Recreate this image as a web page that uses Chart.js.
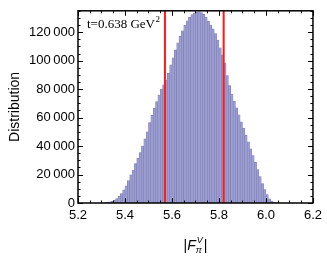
<!DOCTYPE html>
<html>
<head>
<meta charset="utf-8">
<script src="https://cdn.jsdelivr.net/npm/chart.js@4.4.0/dist/chart.umd.min.js"></script>
<style>
    html, body { margin: 0; padding: 0; background: #fff; }
    #chartOuter { width: 327px; height: 256px; }
</style>
</head>
<body>
<div id="chartOuter"><canvas id="myChart"></canvas></div>
<script>
// histogram bins (centre of each 0.01 wide bin) and counts
const binCenters = [
    5.315, 5.325, 5.335, 5.345, 5.355, 5.365, 5.375, 5.385, 5.395, 5.405,
    5.415, 5.425, 5.435, 5.445, 5.455, 5.465, 5.475, 5.485, 5.495, 5.505,
    5.515, 5.525, 5.535, 5.545, 5.555, 5.565, 5.575, 5.585, 5.595, 5.605,
    5.615, 5.625, 5.635, 5.645, 5.655, 5.665, 5.675, 5.685, 5.695, 5.705,
    5.715, 5.725, 5.735, 5.745, 5.755, 5.765, 5.775, 5.785, 5.795, 5.805,
    5.815, 5.825, 5.835, 5.845, 5.855, 5.865, 5.875, 5.885, 5.895, 5.905,
    5.915, 5.925, 5.935, 5.945, 5.955, 5.965, 5.975, 5.985, 5.995, 6.005,
    6.015, 6.025, 6.035, 6.045, 6.055
];
const counts = [
    300, 600, 900, 1200, 2100, 3100, 4600, 6700, 9200, 12000,
    15700, 19700, 23200, 27700, 31500, 35500, 40000, 45000, 50000, 56500,
    61500, 66500, 71200, 75800, 80000, 83000, 86500, 91000, 97000, 102000,
    107500, 112500, 117000, 121000, 124800, 128000, 130500, 132300, 133500, 134000,
    134200, 133700, 132500, 130600, 127800, 125000, 122300, 119000, 114500, 109000,
    104000, 98500, 89500, 82500, 76500, 71500, 66800, 62000, 57000, 52500,
    47500, 43000, 38000, 33300, 28500, 23500, 18500, 13600, 9500, 6000,
    3000, 1300, 500, 200, 50
];
// the two red vertical lines
const bandEdges = [5.57, 5.82];
const xTicks = [5.2, 5.4, 5.6, 5.8, 6.0, 6.2];
const yTicks = [0, 20000, 40000, 60000, 80000, 100000, 120000];
const xMinorStep = 0.05;
const yMinorStep = 5000;
const yMax = 135000;
const tLabel = "t=0.638 GeV";

var histData = [];
for (let i in binCenters) {
    histData.push({ x: binCenters[i], y: counts[i] });
}

var datasets = [];
bandEdges.forEach(function (v) {
    datasets.push({
        type: 'line',
        data: [{ x: v, y: 0 }, { x: v, y: yMax }],
        borderColor: "rgb(255,25,25)",
        borderWidth: 2,
        pointRadius: 0,
        order: 0
    });
});
datasets.push({
    type: 'bar',
    data: histData,
    backgroundColor: "#9c9ed0",
    borderColor: "#7c7cb6",
    borderWidth: 0.6,
    barPercentage: 1,
    categoryPercentage: 1,
    order: 1
});

// frame, inward ticks and the fancy texts
const frameAndTexts = {
    id: "frameAndTexts",
    afterDraw(chart) {
        const { ctx, chartArea: { left, right, top, bottom }, scales: { x, y } } = chart;
        ctx.save();
        ctx.strokeStyle = "#000";
        ctx.lineWidth = 1;
        // minor + major ticks on x (bottom and top)
        for (let k = 0; k <= 20; k++) {
            let v = 5.2 + k * xMinorStep;
            let px = Math.round(x.getPixelForValue(v)) + 0.5;
            let len = (k % 4 == 0) ? 5 : 2.5;
            ctx.beginPath();
            ctx.moveTo(px, bottom); ctx.lineTo(px, bottom - len);
            ctx.moveTo(px, top); ctx.lineTo(px, top + len);
            ctx.stroke();
        }
        for (let v = 0; v <= yMax; v += yMinorStep) {
            let py = Math.round(y.getPixelForValue(v)) + 0.5;
            let len = (v % 20000 == 0) ? 5 : 2.5;
            ctx.beginPath();
            ctx.moveTo(left, py); ctx.lineTo(left + len, py);
            ctx.moveTo(right, py); ctx.lineTo(right - len, py);
            ctx.stroke();
        }
        ctx.lineWidth = 1.5;
        ctx.strokeRect(left, top, right - left, bottom - top);

        // t label
        ctx.fillStyle = "#000";
        ctx.textBaseline = "alphabetic";
        ctx.textAlign = "left";
        ctx.font = "13px 'Liberation Serif'";
        ctx.fillText(tLabel, 87, 28);
        let w = ctx.measureText(tLabel).width;
        ctx.font = "9px 'Liberation Serif'";
        ctx.fillText("2", 87 + w + 0.5, 22);

        // x axis title |F_pi^V|
        const base = 250;
        ctx.font = "14px 'Liberation Sans'";
        let wBar = ctx.measureText("|").width;
        ctx.font = "italic 14px 'Liberation Sans'";
        let wF = ctx.measureText("F").width;
        ctx.font = "italic 9px 'Liberation Sans'";
        let wSub = Math.max(ctx.measureText("\u03c0").width, ctx.measureText("V").width);
        let total = wBar * 2 + wF + wSub + 2;
        let cx = (left + right) / 2 - total / 2;
        ctx.font = "14px 'Liberation Sans'";
        ctx.fillText("|", cx, base);
        cx += wBar;
        ctx.font = "italic 14px 'Liberation Sans'";
        ctx.fillText("F", cx, base);
        cx += wF;
        ctx.font = "italic 9px 'Liberation Sans'";
        ctx.fillText("\u03c0", cx, base + 3);
        ctx.fillText("V", cx + 1, base - 7);
        cx += wSub + 2;
        ctx.font = "14px 'Liberation Sans'";
        ctx.fillText("|", cx, base);
        ctx.restore();
    }
};

const ctx = document.getElementById('myChart');
new Chart(ctx, {
    type: 'bar',
    data: { datasets: datasets },
    plugins: [frameAndTexts],
    options: {
        responsive: true,
        maintainAspectRatio: false,
        animation: false,
        layout: { padding: { left: 0, right: 9, top: 1, bottom: 0 } },
        plugins: {
            legend: { display: false },
            tooltip: { enabled: false }
        },
        scales: {
            x: {
                type: 'linear',
                min: 5.2,
                max: 6.2,
                offset: false,
                grid: { display: false, drawTicks: false },
                border: { display: false },
                afterBuildTicks: (scale) => {
                    scale.ticks = xTicks.map(v => ({ value: v }));
                },
                ticks: {
                    padding: 5,
                    maxRotation: 0,
                    color: "#000",
                    font: { family: "'Liberation Sans'", size: 13 },
                    callback: (v) => v.toFixed(1)
                },
                afterFit: (scale) => {
                    scale.height = 53;
                }
            },
            y: {
                min: 0,
                max: yMax,
                grid: { display: false, drawTicks: false },
                border: { display: false },
                afterBuildTicks: (scale) => {
                    scale.ticks = yTicks.map(v => ({ value: v }));
                },
                ticks: {
                    padding: 3,
                    color: "#000",
                    font: { family: "'Liberation Sans'", size: 13 },
                    callback: (v) => v >= 1000 ? Math.floor(v / 1000) + "\u2009" + "000" : String(v)
                },
                title: {
                    display: true,
                    text: "Distribution",
                    color: "#000",
                    padding: { top: 7, bottom: 0 },
                    font: { family: "'Liberation Sans'", size: 14 }
                },
                afterFit: (scale) => {
                    scale.width = 78;
                }
            }
        }
    }
});
</script>
</body>
</html>
